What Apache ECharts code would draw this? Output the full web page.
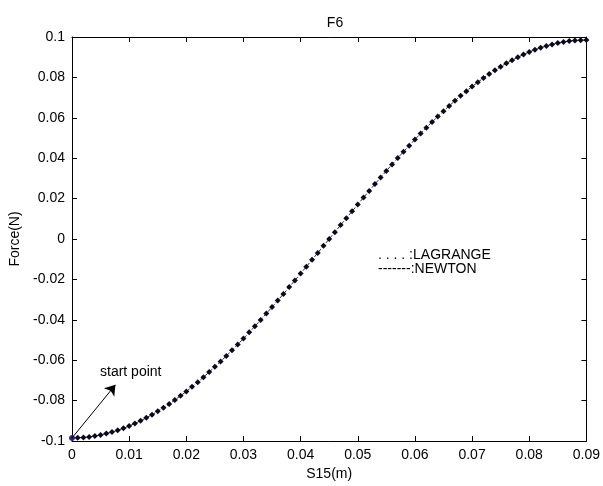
<!DOCTYPE html>
<html>
<head>
<meta charset="utf-8">
<script src="https://cdn.jsdelivr.net/npm/echarts@6/dist/echarts.min.js"></script>
<style>html,body{margin:0;padding:0;background:#fff}#c{width:603px;height:486px}</style>
</head>
<body>
<div id="c"></div>
<script>
// S15 (m) sample positions, step 0.001
var xValues = [];
for (var i = 0; i <= 90; i++) { xValues.push(+(i * 0.001).toFixed(3)); }
// Force (N)
var forceValues = [
 -0.0985,-0.0984,-0.0983,-0.0980,-0.0975,-0.0970,-0.0963,-0.0956,-0.0947,-0.0937,
 -0.0926,-0.0913,-0.0900,-0.0885,-0.0870,-0.0853,-0.0835,-0.0817,-0.0797,-0.0776,
 -0.0755,-0.0732,-0.0709,-0.0684,-0.0659,-0.0633,-0.0606,-0.0579,-0.0551,-0.0522,
 -0.0493,-0.0462,-0.0432,-0.0401,-0.0369,-0.0337,-0.0304,-0.0272,-0.0238,-0.0205,
 -0.0171,-0.0137,-0.0103,-0.0069,-0.0034,0.0000,0.0034,0.0069,0.0103,0.0137,
 0.0171,0.0205,0.0238,0.0272,0.0304,0.0337,0.0369,0.0401,0.0432,0.0462,
 0.0493,0.0522,0.0551,0.0579,0.0606,0.0633,0.0659,0.0684,0.0709,0.0732,
 0.0755,0.0776,0.0797,0.0817,0.0835,0.0853,0.0870,0.0885,0.0900,0.0913,
 0.0926,0.0937,0.0947,0.0956,0.0963,0.0970,0.0975,0.0980,0.0983,0.0984,0.0985
];
var xTicks = [0,0.01,0.02,0.03,0.04,0.05,0.06,0.07,0.08,0.09];
var yTicks = [-0.1,-0.08,-0.06,-0.04,-0.02,0,0.02,0.04,0.06,0.08,0.1];
var startPoint = [0, -0.0985];
var arrowTip = [0.0076, -0.0722];

var pts = xValues.map(function (x, i) { return [x, forceValues[i]]; });
var FONT = 'Liberation Sans';
var axisLine = { show: true, onZero: false, lineStyle: { color: '#000', width: 1 } };
var tickIn = { show: true, inside: true, length: 5, lineStyle: { color: '#000', width: 1 } };
function fmt(v) { return String(+v.toFixed(2)); }

var chart = echarts.init(document.getElementById('c'), null, { renderer: 'canvas' });
chart.setOption({
  animation: false,
  backgroundColor: '#fff',
  title: { text: 'F6', left: 330, textAlign: 'center', top: 11,
    textStyle: { fontFamily: FONT, fontSize: 14, fontWeight: 'normal', color: '#000' } },
  grid: { left: 72, right: 16, top: 37, bottom: 43 },
  xAxis: [{
    type: 'value', min: 0, max: 0.09, interval: 0.01, position: 'bottom',
    name: 'S15(m)', nameLocation: 'middle', nameGap: 26,
    nameTextStyle: { fontFamily: FONT, fontSize: 14, color: '#000' },
    axisLine: axisLine, axisTick: tickIn, splitLine: { show: false },
    axisLabel: { margin: 7, fontFamily: FONT, fontSize: 14, color: '#000', formatter: fmt }
  }, {
    type: 'value', min: 0, max: 0.09, interval: 0.01, position: 'top',
    axisLine: axisLine, axisTick: tickIn, splitLine: { show: false }, axisLabel: { show: false }
  }],
  yAxis: [{
    type: 'value', min: -0.1, max: 0.1, interval: 0.02, position: 'left',
    name: 'Force(N)', nameLocation: 'middle', nameGap: 50,
    nameTextStyle: { fontFamily: FONT, fontSize: 14, color: '#000' },
    axisLine: axisLine, axisTick: tickIn, splitLine: { show: false },
    axisLabel: { margin: 7, fontFamily: FONT, fontSize: 14, color: '#000', formatter: fmt }
  }, {
    type: 'value', min: -0.1, max: 0.1, interval: 0.02, position: 'right',
    axisLine: axisLine, axisTick: tickIn, splitLine: { show: false }, axisLabel: { show: false }
  }],
  series: [{
    name: 'NEWTON', type: 'line', data: pts, showSymbol: false, symbol: 'none',
    lineStyle: { color: '#333', width: 1, type: [4, 2] }, z: 2
  }, {
    name: 'LAGRANGE', type: 'line', data: pts, symbol: 'diamond', symbolSize: 6,
    itemStyle: { color: '#0a0a1e' }, lineStyle: { width: 0, opacity: 0 }, z: 3,
    markLine: {
      silent: true, symbol: ['none', 'arrow'], symbolSize: 10,
      lineStyle: { color: '#000', width: 1, type: 'solid' }, label: { show: false },
      data: [[{ coord: startPoint }, { coord: arrowTip }]]
    }
  }, {
    name: 'start', type: 'scatter', data: [startPoint], symbol: 'circle', symbolSize: 6,
    itemStyle: { color: '#2a2a8a' }, z: 4
  }],
  graphic: [
    { type: 'text', left: 100, top: 365, style: { text: 'start point', font: '14px "Liberation Sans"', fill: '#000' } },
    { type: 'text', left: 378, top: 248, style: { text: '. . . . :LAGRANGE', font: '14px "Liberation Sans"', fill: '#000' } },
    { type: 'text', left: 378, top: 262, style: { text: '-------:NEWTON', font: '14px "Liberation Sans"', fill: '#000' } }
  ]
});
</script>
</body>
</html>
